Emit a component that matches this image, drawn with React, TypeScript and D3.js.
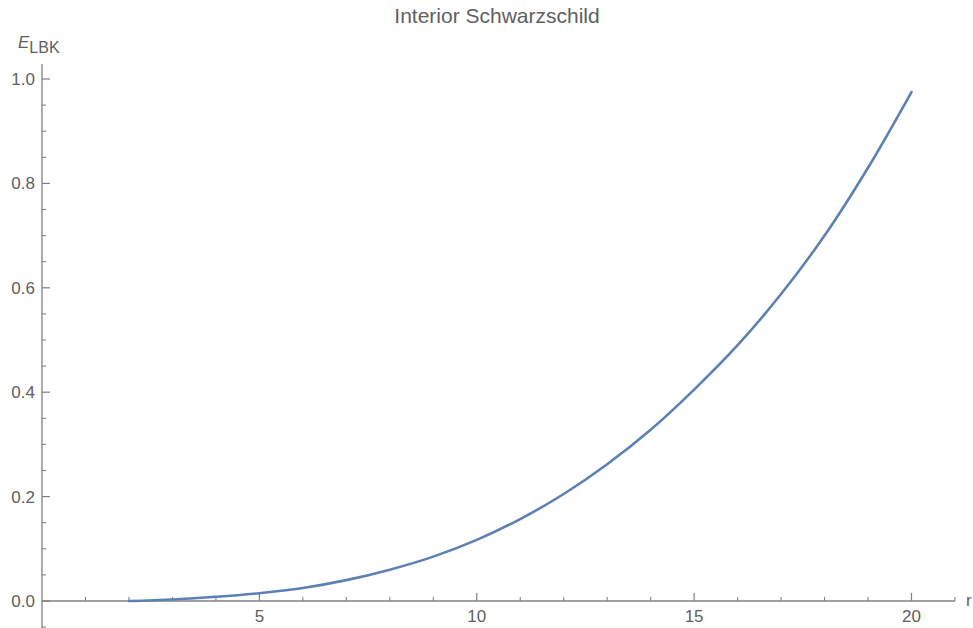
import React from "react";
import * as d3 from "d3";

const rValues = [2, 3, 4, 5, 6, 7, 8, 9, 10, 11, 12, 13, 14, 15, 16, 17, 18, 19, 20];
const eValues = [0.0, 0.003, 0.008, 0.015, 0.025, 0.04, 0.06, 0.085, 0.117, 0.157, 0.205, 0.262, 0.328, 0.405, 0.49, 0.588, 0.7, 0.83, 0.975];
const xMajorTicks = [5, 10, 15, 20];
const xMinorTicks = [1, 2, 3, 4, 6, 7, 8, 9, 11, 12, 13, 14, 16, 17, 18, 19, 21];
const yMajorTicks = [0, 0.2, 0.4, 0.6, 0.8, 1.0];
const yMinorTicks = [-0.05, 0.05, 0.1, 0.15, 0.25, 0.3, 0.35, 0.45, 0.5, 0.55, 0.65, 0.7, 0.75, 0.85, 0.9, 0.95];
const title = "Interior Schwarzschild";

const W = 973;
const H = 628;

export default function App() {
  const x = d3.scaleLinear().domain([0, 20]).range([42, 911.5]);
  const y = d3.scaleLinear().domain([0, 1]).range([601, 79]);
  const pts: [number, number][] = rValues.map((r, i) => [r, eValues[i]]);
  const line = d3
    .line<[number, number]>()
    .x((d) => x(d[0]))
    .y((d) => y(d[1]))
    .curve(d3.curveCatmullRom.alpha(0.5));
  const axisColor = "#808080";
  const textColor = "#606060";
  const font = "'Liberation Sans', Arial, sans-serif";
  const x0 = x(0);
  const y0 = y(0);
  return (
    <svg
      width={W}
      height={H}
      style={{ position: "absolute", left: 0, top: 0, background: "#fff" }}
      fontFamily={font}
    >
      <rect width={W} height={H} fill="#fff" />
      <text x={497} y={23} textAnchor="middle" fontSize={21} fill={textColor}>
        {title}
      </text>
      {/* axes */}
      <line x1={x0} x2={x(21)} y1={y0} y2={y0} stroke={axisColor} strokeWidth={1.3} />
      <line x1={x0} x2={x0} y1={64} y2={H} stroke={axisColor} strokeWidth={1.3} />
      {xMajorTicks.map((t) => (
        <g key={"xm" + t}>
          <line x1={x(t)} x2={x(t)} y1={y0} y2={y0 - 8} stroke={axisColor} strokeWidth={1.2} />
          <text x={x(t)} y={622} textAnchor="middle" fontSize={17} fill={textColor}>
            {t}
          </text>
        </g>
      ))}
      {xMinorTicks.map((t) => (
        <line key={"xn" + t} x1={x(t)} x2={x(t)} y1={y0} y2={y0 - 4} stroke={axisColor} strokeWidth={1.1} />
      ))}
      {yMajorTicks.map((t) => (
        <g key={"ym" + t}>
          <line x1={x0} x2={x0 + 8} y1={y(t)} y2={y(t)} stroke={axisColor} strokeWidth={1.2} />
          <text x={35} y={y(t) + 6} textAnchor="end" fontSize={17} fill={textColor}>
            {t.toFixed(1)}
          </text>
        </g>
      ))}
      {yMinorTicks.map((t) => (
        <line key={"yn" + t} x1={x0} x2={x0 + 4} y1={y(t)} y2={y(t)} stroke={axisColor} strokeWidth={1.1} />
      ))}
      {/* axis labels */}
      <text x={18} y={48} fontSize={17} fill={textColor}>
        <tspan fontStyle="italic">E</tspan>
        <tspan dy={5} fontSize={16}>LBK</tspan>
      </text>
      <text x={966} y={606} fontSize={17} fill={textColor}>
        r
      </text>
      <path d={line(pts) || ""} fill="none" stroke="#5E81B5" strokeWidth={2.6} strokeLinecap="round" />
    </svg>
  );
}
